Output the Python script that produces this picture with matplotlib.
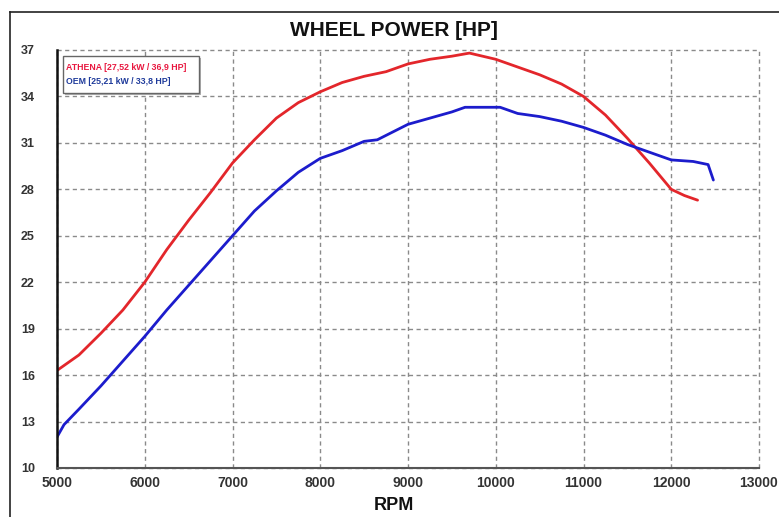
import matplotlib.pyplot as plt
from matplotlib.lines import Line2D
from matplotlib.patches import Rectangle

# dyno readings
athena_rpm = [5000, 5250, 5500, 5750, 6000, 6250, 6500, 6750, 7000, 7250, 7500,
              7750, 8000, 8250, 8500, 8750, 9000, 9250, 9500, 9700, 10000, 10250,
              10500, 10750, 11000, 11250, 11500, 11750, 12000, 12150, 12300]
athena_hp = [16.3, 17.3, 18.7, 20.2, 22.0, 24.1, 26.0, 27.8, 29.7, 31.2, 32.6,
             33.6, 34.3, 34.9, 35.3, 35.6, 36.1, 36.4, 36.6, 36.8, 36.4, 35.9,
             35.4, 34.8, 34.0, 32.8, 31.3, 29.7, 28.0, 27.6, 27.3]

oem_rpm = [5000, 5080, 5250, 5500, 5750, 6000, 6250, 6500, 6750, 7000, 7250,
           7500, 7750, 8000, 8250, 8500, 8650, 9000, 9250, 9500, 9650, 10050,
           10250, 10500, 10750, 11000, 11250, 11500, 11750, 12000, 12250, 12420, 12480]
oem_hp = [12.0, 12.8, 13.8, 15.3, 16.9, 18.5, 20.2, 21.8, 23.4, 25.0, 26.6,
          27.9, 29.1, 30.0, 30.5, 31.1, 31.2, 32.2, 32.6, 33.0, 33.3, 33.3,
          32.9, 32.7, 32.4, 32.0, 31.5, 30.9, 30.4, 29.9, 29.8, 29.6, 28.6]

x_ticks = [5000, 6000, 7000, 8000, 9000, 10000, 11000, 12000, 13000]
y_ticks = [10, 13, 16, 19, 22, 25, 28, 31, 34, 37]

athena_label = "ATHENA [27,52 kW / 36,9 HP]"
oem_label = "OEM [25,21 kW / 33,8 HP]"
title = "WHEEL POWER [HP]"
xlabel = "RPM"

W, H = 779, 517


def fx(x):
    return x / W


def fy(y):
    return 1 - y / H


fig = plt.figure(figsize=(W / 100, H / 100), dpi=100)
ax = fig.add_axes([fx(57), fy(468), fx(759) - fx(57), fy(50) - fy(468)])

ax.plot(athena_rpm, athena_hp, color="#e3262b", lw=2.0, solid_capstyle="round")
ax.plot(oem_rpm, oem_hp, color="#1c1ccc", lw=2.0, solid_capstyle="round")

ax.set_xlim(5000, 13000)
ax.set_ylim(10, 37)
ax.set_xticks(x_ticks)
ax.set_yticks(y_ticks)

tick_font = dict(family=["Liberation Sans Narrow", "Liberation Sans", "DejaVu Sans"],
                 weight="bold")
ax.set_xticklabels([str(t) for t in x_ticks], fontsize=10, color="#333333", **tick_font)
ax.set_yticklabels([str(t) for t in y_ticks], fontsize=9, color="#333333", **tick_font)
ax.tick_params(axis="x", length=0, pad=6)
ax.tick_params(axis="y", length=0, pad=16)

ax.grid(True, color="#8a8a8a", lw=1.0, linestyle=(0, (3, 2.5)))
for gl in ax.get_xgridlines() + ax.get_ygridlines():
    gl.set_clip_on(False)

for s in ["top", "right"]:
    ax.spines[s].set_visible(False)
ax.spines["left"].set_color("#111111")
ax.spines["left"].set_linewidth(1.8)
ax.spines["bottom"].set_color("#555555")
ax.spines["bottom"].set_linewidth(1.5)
ax.set_axisbelow(True)

# legend box
shadow = Rectangle((fx(65), fy(95)), fx(199) - fx(63), fy(56) - fy(93),
                   transform=fig.transFigure, facecolor="#b0b0b0", edgecolor="none", zorder=5)
box = Rectangle((fx(63), fy(93)), fx(199) - fx(63), fy(56) - fy(93),
                transform=fig.transFigure, facecolor="white", edgecolor="#666666",
                lw=1.0, zorder=6)
fig.patches.extend([shadow, box])
leg_font = ["Liberation Sans", "DejaVu Sans"]
fig.text(fx(66), fy(68), athena_label, color="#e8173f", fontsize=6.3, weight="bold",
         family=leg_font, va="center", ha="left", zorder=7)
fig.text(fx(66), fy(82), oem_label, color="#1f3b9b", fontsize=6.3, weight="bold",
         family=leg_font, va="center", ha="left", zorder=7)

fig.text(fx(394), fy(31), title, fontsize=15, weight="bold", ha="center", va="center",
         family=["Liberation Sans", "DejaVu Sans"], color="#111111")
fig.text(fx(394), fy(505), xlabel, fontsize=13, weight="bold", ha="center", va="center",
         family=["Liberation Sans", "DejaVu Sans"], color="#111111")

# outer frame
fig.add_artist(Line2D([fx(10), fx(779)], [fy(12), fy(12)], transform=fig.transFigure,
                      color="#222222", lw=1.2))
fig.add_artist(Line2D([fx(10), fx(10)], [fy(12), fy(517)], transform=fig.transFigure,
                      color="#222222", lw=1.2))

fig.savefig("out.png", dpi=100)
